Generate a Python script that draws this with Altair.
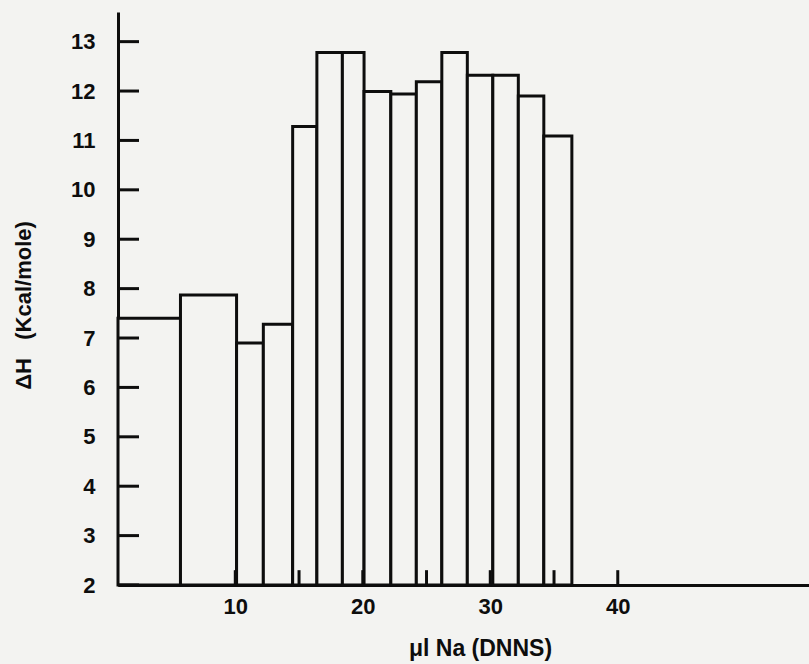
import altair as alt
import pandas as pd

# Bin edges (µl Na) and enthalpy values (Kcal/mole)
edges = [0.8, 5.7, 10.1, 12.2, 14.5, 16.4, 18.4, 20.1, 22.2, 24.2, 26.2, 28.2, 30.2, 32.2, 34.2, 36.4]
dh = [7.4, 7.87, 6.9, 7.28, 11.28, 12.78, 12.78, 11.99, 11.94, 12.19, 12.78, 12.32, 12.32, 11.9, 11.09]

x_ticks = [10, 15, 20, 25, 30, 35, 40]
x_labels = [10, 20, 30, 40]
y_ticks = [2, 3, 4, 5, 6, 7, 8, 9, 10, 11, 12, 13]

BG = "#f3f3f1"
FONT = "Liberation Sans"
INK = "#0d0d0d"

bars = pd.DataFrame({
    "x0": edges[:-1],
    "x1": edges[1:],
    "dh": dh,
    "base": [2] * len(dh),
})

xs = alt.Scale(domain=[0.8, 55], nice=False, zero=False)
ys = alt.Scale(domain=[2, 13.6], nice=False, zero=False)

bar_layer = alt.Chart(bars).mark_rect(
    fill=BG, stroke=INK, strokeWidth=3
).encode(
    x=alt.X("x0:Q", scale=xs, axis=alt.Axis(
        title="μl Na (DNNS)", values=x_labels, ticks=False, grid=False,
        domainColor=INK, domainWidth=3, labelFontSize=22, labelFont=FONT,
        labelFontWeight="bold", labelColor=INK, labelPadding=11,
        titleFont=FONT, titleFontSize=23, titleFontWeight="bold", titleColor=INK,
        titleX=362, titleY=63, titleBaseline="middle", titleAlign="center")),
    x2="x1:Q",
    y=alt.Y("dh:Q", scale=ys, axis=alt.Axis(
        title="ΔH\u00a0\u00a0\u00a0(Kcal/mole)", values=y_ticks, ticks=False, grid=False,
        domainColor=INK, domainWidth=3, labelFontSize=22, labelFont=FONT,
        labelFontWeight="bold", labelColor=INK, labelPadding=23,
        titleFont=FONT, titleFontSize=22, titleFontWeight="bold", titleColor=INK,
        titleX=-95, titleY=293, titleBaseline="middle", titleAlign="center")),
    y2="base:Q",
)

ytick_df = pd.DataFrame({"y": y_ticks})
ytick_layer = alt.Chart(ytick_df).mark_rule(color=INK, strokeWidth=3).encode(
    y=alt.Y("y:Q", scale=ys),
    x=alt.value(0),
    x2=alt.value(21),
)

xtick_df = pd.DataFrame({"x": x_ticks, "y0": [2] * len(x_ticks), "y1": [2.3] * len(x_ticks)})
xtick_layer = alt.Chart(xtick_df).mark_rule(color=INK, strokeWidth=3).encode(
    x=alt.X("x:Q", scale=xs),
    y=alt.Y("y0:Q", scale=ys),
    y2="y1:Q",
)

chart = alt.layer(bar_layer, ytick_layer, xtick_layer).properties(
    width=691,
    height=573,
    background=BG,
    padding={"left": 118, "top": 12, "right": 0, "bottom": 79},
    autosize=alt.AutoSizeParams(type="none"),
).configure_view(stroke=None)

chart.save("out.html", embed_options={"renderer": "svg", "actions": False})
